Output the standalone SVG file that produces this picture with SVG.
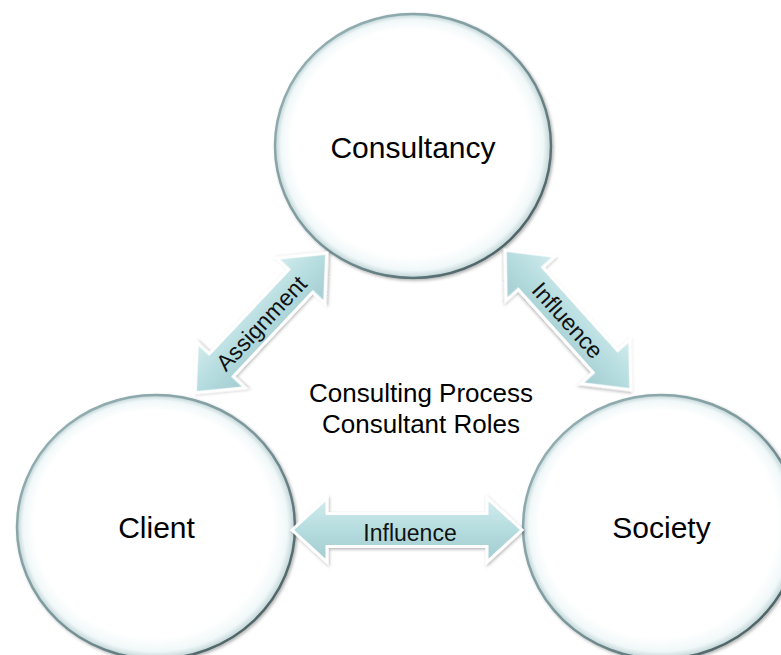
<svg xmlns="http://www.w3.org/2000/svg" width="781" height="655" viewBox="0 0 781 655">
  <defs>
    <radialGradient id="nodeFill" cx="0.5" cy="0.5" r="0.5" fx="0.44" fy="0.42">
      <stop offset="0" stop-color="#ffffff"/>
      <stop offset="0.86" stop-color="#ffffff"/>
      <stop offset="0.95" stop-color="#f1f8f9"/>
      <stop offset="1" stop-color="#bfd3d5"/>
    </radialGradient>
    <linearGradient id="nodeStroke" x1="0" y1="0" x2="1" y2="1">
      <stop offset="0" stop-color="#9bb6b9"/>
      <stop offset="0.5" stop-color="#7a979b"/>
      <stop offset="1" stop-color="#3f5153"/>
    </linearGradient>
    <linearGradient id="arrowFill" x1="0" y1="0" x2="0" y2="1">
      <stop offset="0" stop-color="#d3eced"/>
      <stop offset="0.5" stop-color="#b5dcdf"/>
      <stop offset="1" stop-color="#a3ccd0"/>
    </linearGradient>
    <filter id="shadow" x="-20%" y="-20%" width="140%" height="140%">
      <feDropShadow dx="1.5" dy="1.5" stdDeviation="1.5" flood-color="#000" flood-opacity="0.3"/>
    </filter>
    <filter id="arrowShadow" x="-20%" y="-40%" width="140%" height="180%">
      <feDropShadow dx="1" dy="1.5" stdDeviation="1.5" flood-color="#000" flood-opacity="0.28"/>
    </filter>
  </defs>
  <style>
    .node { fill: url(#nodeFill); stroke: url(#nodeStroke); stroke-width: 2.5; filter: url(#shadow); }
    .nlabel { font-family: "Liberation Sans", Arial, sans-serif; font-size: 30px; fill: #000; text-anchor: middle; }
    .arrow { fill: url(#arrowFill); stroke: #ffffff; stroke-width: 3; stroke-linejoin: miter; filter: url(#arrowShadow); }
    .alabel { font-family: "Liberation Sans", Arial, sans-serif; font-size: 23px; fill: #111; text-anchor: middle; }
    .clabel { font-family: "Liberation Sans", Arial, sans-serif; font-size: 26px; fill: #000; text-anchor: middle; }
  </style>
  <rect width="781" height="655" fill="#ffffff"/>

  <g id="node-consultancy">
    <ellipse class="node" cx="413" cy="146" rx="138" ry="132"/>
    <text class="nlabel" x="413" y="158">Consultancy</text>
  </g>
  <g id="node-client">
    <ellipse class="node" cx="156" cy="527" rx="139" ry="132"/>
    <text class="nlabel" x="156.5" y="538">Client</text>
  </g>
  <g id="node-society">
    <ellipse class="node" cx="661" cy="527" rx="138" ry="132"/>
    <text class="nlabel" x="661.5" y="538">Society</text>
  </g>

  <g id="connectors">
    <g id="arrow-assignment" transform="translate(261,323) rotate(-46.7)">
      <path class="arrow" d="M-96,0 L-58,-33 L-58,-16.5 L58,-16.5 L58,-33 L96,0 L58,33 L58,16.5 L-58,16.5 L-58,33 Z"/>
      <text class="alabel" x="0" y="8.5">Assignment</text>
    </g>
    <g id="arrow-influence-right" transform="translate(568,320) rotate(48)">
      <path class="arrow" d="M-94,0 L-56,-33 L-56,-16.5 L56,-16.5 L56,-33 L94,0 L56,33 L56,16.5 L-56,16.5 L-56,33 Z"/>
      <text class="alabel" x="0" y="8.5">Influence</text>
    </g>
    <g id="arrow-influence-bottom" transform="translate(407,530)">
      <path class="arrow" d="M-115,0 L-80,-32 L-80,-16.5 L80,-16.5 L80,-32 L115,0 L80,32 L80,16.5 L-80,16.5 L-80,32 Z"/>
      <text class="alabel" x="3" y="11">Influence</text>
    </g>
  </g>

  <g id="center-label">
    <text class="clabel" x="421" y="402">Consulting Process</text>
    <text class="clabel" x="421" y="433">Consultant Roles</text>
  </g>
</svg>
